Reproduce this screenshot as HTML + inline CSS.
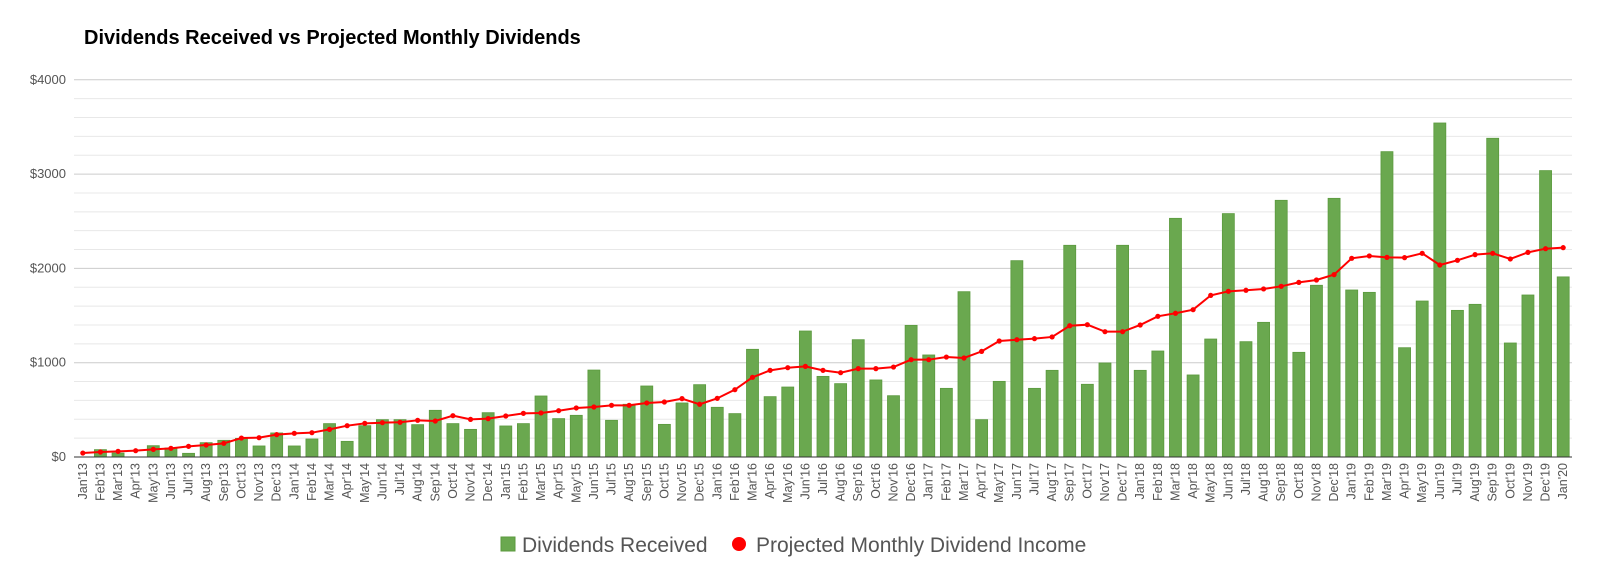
<!DOCTYPE html>
<html><head><meta charset="utf-8"><style>
body{margin:0;background:#fff;width:1600px;height:579px;overflow:hidden;font-family:"Liberation Sans",Arial,sans-serif}
</style></head><body>
<svg id="chart" width="1600" height="579" xmlns="http://www.w3.org/2000/svg">
<text x="84" y="44" font-size="20" font-weight="bold" fill="#000">Dividends Received vs Projected Monthly Dividends</text>
<g id="grid"></g><g id="bars"></g><g id="line"></g><g id="xlabels"></g>
<g>
<rect x="501" y="537" width="14" height="14" fill="#6aa84f" stroke="#5b9a3e"/>
<text x="522" y="552" font-size="21" fill="#555">Dividends Received</text>
<circle cx="739" cy="544" r="7" fill="#ff0000"/>
<text x="756" y="552" font-size="21" fill="#555">Projected Monthly Dividend Income</text>
</g>
</svg>
<script>
const months=["Jan'13","Feb'13","Mar'13","Apr'13","May'13","Jun'13","Jul'13","Aug'13","Sep'13","Oct'13","Nov'13","Dec'13","Jan'14","Feb'14","Mar'14","Apr'14","May'14","Jun'14","Jul'14","Aug'14","Sep'14","Oct'14","Nov'14","Dec'14","Jan'15","Feb'15","Mar'15","Apr'15","May'15","Jun'15","Jul'15","Aug'15","Sep'15","Oct'15","Nov'15","Dec'15","Jan'16","Feb'16","Mar'16","Apr'16","May'16","Jun'16","Jul'16","Aug'16","Sep'16","Oct'16","Nov'16","Dec'16","Jan'17","Feb'17","Mar'17","Apr'17","May'17","Jun'17","Jul'17","Aug'17","Sep'17","Oct'17","Nov'17","Dec'17","Jan'18","Feb'18","Mar'18","Apr'18","May'18","Jun'18","Jul'18","Aug'18","Sep'18","Oct'18","Nov'18","Dec'18","Jan'19","Feb'19","Mar'19","Apr'19","May'19","Jun'19","Jul'19","Aug'19","Sep'19","Oct'19","Nov'19","Dec'19","Jan'20"];
const received=[0,78,42,0,120,95,39,152,177,198,117,255,117,191,354,166,332,396,396,343,495,354,293,470,329,354,647,407,442,922,389,559,753,346,573,767,527,460,1142,640,742,1336,855,778,1244,817,650,1396,1082,728,1753,396,802,2082,728,919,2245,771,997,2245,919,1124,2531,870,1251,2581,1223,1428,2722,1110,1821,2743,1771,1746,3238,1159,1654,3542,1555,1619,3380,1209,1718,3037,1910];
const projected=[42,53,60,67,81,92,113,127,145,201,205,237,251,258,293,332,357,364,368,389,382,438,399,407,435,463,467,491,520,530,548,548,573,583,619,559,622,714,845,919,947,961,919,894,937,937,954,1032,1032,1060,1050,1120,1230,1244,1255,1273,1392,1403,1329,1329,1400,1492,1524,1562,1714,1757,1768,1782,1810,1852,1877,1934,2107,2132,2117,2114,2160,2036,2086,2146,2160,2100,2170,2209,2220];
const yTicks=[0,1000,2000,3000,4000];
const NS="http://www.w3.org/2000/svg";
const X0=74,X1=1572,Y0=457,PXK=94.3;
const slot=(X1-X0)/months.length;
function xs(i){return X0+slot*(i+0.5);}
function ys(v){return Y0-v*PXK/1000;}
function mk(tag,attrs,parent){const e=document.createElementNS(NS,tag);for(const k in attrs)e.setAttribute(k,attrs[k]);parent.appendChild(e);return e;}
const grid=document.getElementById('grid');
for(let v=200;v<=4000;v+=200){
 const major=v%1000===0;
 const l=mk('line',{x1:X0,x2:X1,y1:ys(v),y2:ys(v),stroke:major?'#ccc':'#e8e8e8','stroke-width':1},grid);
 
 
}
yTicks.forEach(v=>{
 const t=mk('text',{x:66,y:ys(v)+4,'text-anchor':'end','font-size':13,fill:'#555'},grid);
 t.textContent='$'+v;
 
 
});
const bars=document.getElementById('bars');
received.forEach((v,i)=>{
 if(v<=0)return;
 const r=mk('rect',{x:xs(i)-6,y:ys(v),width:12,height:Y0-ys(v),fill:'#6aa84f',stroke:'#5b9a3e','stroke-width':0.8},bars);
 
 
});
const base=mk('line',{x1:X0,x2:X1,y1:Y0,y2:Y0,stroke:'#333','stroke-width':1},bars);


const lg=document.getElementById('line');
const pl=mk('polyline',{points:projected.map((v,i)=>xs(i)+','+ys(v)).join(' '),fill:'none',stroke:'#ff0000','stroke-width':2},lg);


projected.forEach((v,i)=>{
 const c=mk('circle',{cx:xs(i),cy:ys(v),r:2.6,fill:'#ff0000'},lg);
 
 
});
const xl=document.getElementById('xlabels');
months.forEach((m,i)=>{
 const x=xs(i)+4,y=463;
 const t=mk('text',{x:x,y:y,'text-anchor':'end','font-size':12.5,fill:'#555',transform:'rotate(-90 '+x+' '+y+')'},xl);
 t.textContent=m;
 
 
});
</script>
</body></html>
